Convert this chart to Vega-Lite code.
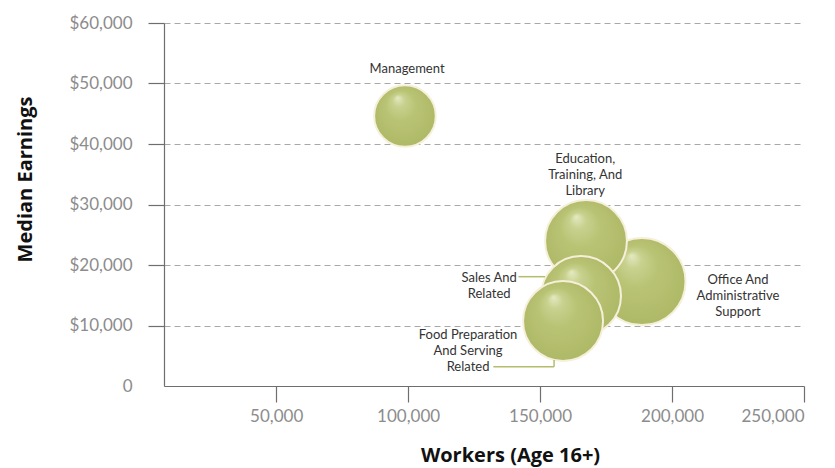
{
  "$schema": "https://vega.github.io/schema/vega-lite/v6.json",
  "width": 640,
  "height": 363,
  "autosize": {"type": "none"},
  "padding": {"left": 164, "top": 23, "right": 31, "bottom": 82},
  "background": "white",
  "config": {
    "view": {"stroke": null},
    "font": "Lato",
    "axis": {
      "labelFont": "Lato",
      "titleFont": "Open Sans",
      "labelColor": "#8c8c8c",
      "labelFontSize": 17,
      "titleColor": "#111111",
      "titleFontSize": 20,
      "titleFontWeight": "bold",
      "domainColor": "#6e6e6e",
      "domainWidth": 1.2,
      "tickColor": "#6e6e6e",
      "tickWidth": 1.2
    }
  },
  "datasets": {
    "jobs": [
      {"occupation": "Management", "workers": 98800, "earnings": 44630, "magnitude": 38},
      {"occupation": "Office And Administrative Support", "workers": 188600, "earnings": 17270, "magnitude": 76},
      {"occupation": "Education, Training, And Library", "workers": 167400, "earnings": 23970, "magnitude": 67},
      {"occupation": "Sales And Related", "workers": 165500, "earnings": 14880, "magnitude": 64},
      {"occupation": "Food Preparation And Serving Related", "workers": 158700, "earnings": 10740, "magnitude": 64}
    ],
    "labels": [
      {"text": "Management", "lx": 99600, "ly": 52400},
      {"text": "Education,\nTraining, And\nLibrary", "lx": 167100, "ly": 37520},
      {"text": "Office And\nAdministrative\nSupport", "lx": 225000, "ly": 17520},
      {"text": "Sales And\nRelated", "lx": 130700, "ly": 17850},
      {"text": "Food Preparation\nAnd Serving\nRelated", "lx": 122700, "ly": 8430}
    ],
    "connectors": [
      {"xa": 141800, "ya": 18070, "xb": 151900, "yb": 18070},
      {"xa": 132300, "ya": 3190, "xb": 155300, "yb": 3190},
      {"xa": 155300, "ya": 3190, "xb": 155300, "yb": 4300}
    ]
  },
  "layer": [
    {
      "data": {"name": "jobs"},
      "mark": {
        "type": "circle",
        "opacity": 1,
        "fillOpacity": 1,
        "stroke": "#f6f0da",
        "strokeWidth": 2,
        "fill": {
          "gradient": "radial",
          "x1": 0.38, "y1": 0.2, "r1": 0,
          "x2": 0.5, "y2": 0.5, "r2": 0.55,
          "stops": [
            {"offset": 0, "color": "#e4eac2"},
            {"offset": 0.18, "color": "#c8d18e"},
            {"offset": 0.45, "color": "#b9c374"},
            {"offset": 1, "color": "#adb866"}
          ]
        }
      },
      "encoding": {
        "x": {
          "field": "workers", "type": "quantitative",
          "scale": {"domain": [7500, 250000], "nice": false, "zero": false},
          "axis": {
            "title": "Workers (Age 16+)",
            "values": [50000, 100000, 150000, 200000, 250000],
            "format": ",.0f",
            "grid": false,
            "tickSize": 16,
            "labelPadding": 6,
            "titleX": 346,
            "titleY": 69,
            "titleBaseline": "middle",
            "titleAlign": "center"
          }
        },
        "y": {
          "field": "earnings", "type": "quantitative",
          "scale": {"domain": [0, 60000], "nice": false},
          "axis": {
            "title": "Median Earnings",
            "values": [0, 10000, 20000, 30000, 40000, 50000, 60000],
            "labelExpr": "datum.value == 0 ? '0' : '$' + format(datum.value, ',.0f')",
            "tickSize": 16,
            "labelPadding": 16,
            "grid": true,
            "gridDash": [6, 4],
            "gridColor": {"condition": {"test": "datum.value == 0", "value": "transparent"}, "value": "#a8a8a8"},
            "tickColor": {"condition": {"test": "datum.value == 0", "value": "transparent"}, "value": "#6e6e6e"},
            "titleX": -139,
            "titleY": 156,
            "titleAngle": -90,
            "titleBaseline": "middle",
            "titleAlign": "center"
          }
        },
        "size": {
          "field": "magnitude", "type": "quantitative",
          "scale": {"domain": [0, 100], "range": [0, 10000], "zero": true},
          "legend": null
        }
      }
    },
    {
      "data": {"name": "connectors"},
      "mark": {"type": "rule", "color": "#b3bd6c", "strokeWidth": 1.5},
      "encoding": {
        "x": {"field": "xa", "type": "quantitative"},
        "x2": {"field": "xb"},
        "y": {"field": "ya", "type": "quantitative"},
        "y2": {"field": "yb"}
      }
    },
    {
      "data": {"name": "labels"},
      "mark": {
        "type": "text",
        "font": "Lato",
        "fontSize": 13,
        "color": "#333333",
        "align": "center",
        "baseline": "middle",
        "lineBreak": "\n",
        "lineHeight": 16
      },
      "encoding": {
        "x": {"field": "lx", "type": "quantitative"},
        "y": {"field": "ly", "type": "quantitative"},
        "text": {"field": "text"}
      }
    }
  ]
}
